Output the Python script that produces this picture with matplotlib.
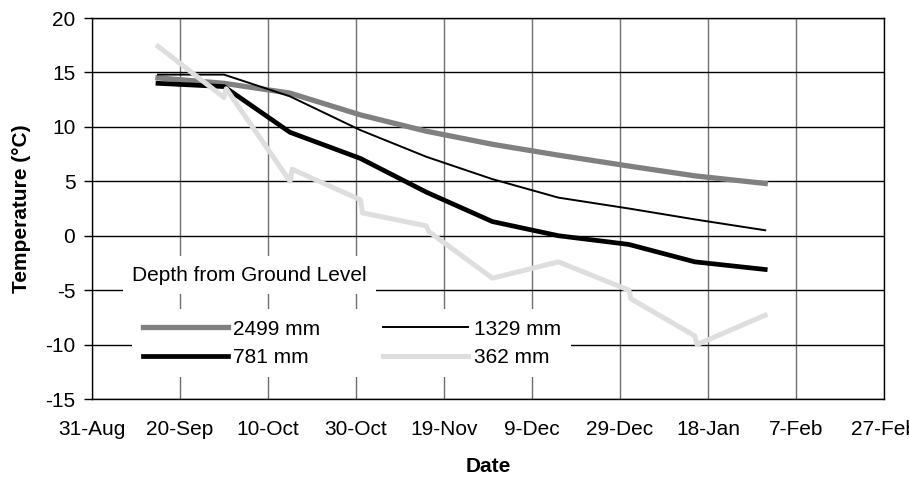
import matplotlib
matplotlib.use("Agg")
import matplotlib.pyplot as plt
import pandas as pd

plt.rcParams['font.family'] = ['Liberation Sans', 'DejaVu Sans']
plt.rcParams['axes.unicode_minus'] = False

# monthly readings (15th and end of month)
dates = pd.to_datetime(['2004-09-15', '2004-09-30', '2004-10-15', '2004-10-31', '2004-11-15',
                        '2004-11-30', '2004-12-15', '2004-12-31', '2005-01-15', '2005-01-31'])
temp_2499 = [14.5, 14.0, 13.1, 11.1, 9.6, 8.4, 7.4, 6.4, 5.5, 4.8]
temp_1329 = [14.8, 14.8, 12.8, 9.7, 7.25, 5.2, 3.5, 2.5, 1.5, 0.5]
temp_781 = [14.0, 13.7, 9.5, 7.1, 4.0, 1.3, 0.0, -0.8, -2.4, -3.1]

# shallow sensor has repeat readings on some days
dates_362 = pd.to_datetime(['2004-09-15 00:00', '2004-09-30 00:00', '2004-09-30 12:00', '2004-10-15 00:00',
                            '2004-10-15 12:00', '2004-10-31 00:00', '2004-10-31 12:00', '2004-11-15 00:00',
                            '2004-11-15 12:00', '2004-11-30 00:00', '2004-12-15 00:00', '2004-12-31 00:00',
                            '2004-12-31 12:00', '2005-01-15 00:00', '2005-01-15 12:00', '2005-01-31 00:00'],
                           format='%Y-%m-%d %H:%M')
temp_362 = [17.4, 12.7, 13.5, 5.0, 6.1, 3.3, 2.1, 0.9, 0.4, -3.9, -2.4, -5.0, -5.8, -9.2, -10.0, -7.3]

tick_dates = pd.date_range('2004-08-31', periods=10, freq='20D')
tick_labels = [f"{d.day}-{d.strftime('%b')}" for d in tick_dates]

fs = 15

fig = plt.figure(figsize=(9.09, 4.79), dpi=100)
ax = fig.add_axes([0.1012, 0.167, 0.8713, 0.7954])

l1, = ax.plot(dates, temp_2499, color='#808080', lw=3.8, label='2499 mm')
l2, = ax.plot(dates, temp_1329, color='black', lw=1.4, label='1329 mm')
l3, = ax.plot(dates, temp_781, color='black', lw=3.4, label='781 mm')
l4, = ax.plot(dates_362, temp_362, color='#dedede', lw=3.6, label='362 mm')

ax.set_xlim(tick_dates[0], tick_dates[-1])
ax.set_ylim(-15, 20)
ax.set_yticks(range(-15, 21, 5))
ax.set_xticks(tick_dates)
ax.set_xticklabels(tick_labels)
ax.tick_params(axis='x', length=0, pad=15, labelsize=fs)
ax.tick_params(axis='y', length=6, width=1, pad=6, labelsize=fs)

ax.set_axisbelow(True)
ax.yaxis.grid(True, color='black', lw=1)
ax.xaxis.grid(True, color='#707070', lw=1)
for s in ax.spines.values():
    s.set_color('black')
    s.set_linewidth(1)

ax.set_xlabel('Date', fontsize=fs, fontweight='bold', labelpad=13)
ax.set_ylabel('Temperature (°C)', fontsize=fs, fontweight='bold', labelpad=10)

leg = ax.legend([l1, l3, l2, l4], ['2499 mm', '781 mm', '1329 mm', '362 mm'], ncol=2,
                loc='center', bbox_to_anchor=(0.328, 0.146), fontsize=fs,
                handlelength=4.1, handletextpad=0.25, columnspacing=3.0,
                labelspacing=0.45, borderpad=0.5, frameon=True, fancybox=False)
leg.get_frame().set_facecolor('white')
leg.get_frame().set_edgecolor('none')
leg.get_frame().set_alpha(1)

ax.text(0.199, 0.325, 'Depth from Ground Level', transform=ax.transAxes, fontsize=fs,
        ha='center', va='center', zorder=5,
        bbox=dict(boxstyle='square,pad=0.45', fc='white', ec='none'))

fig.savefig('out.png', dpi=100)
